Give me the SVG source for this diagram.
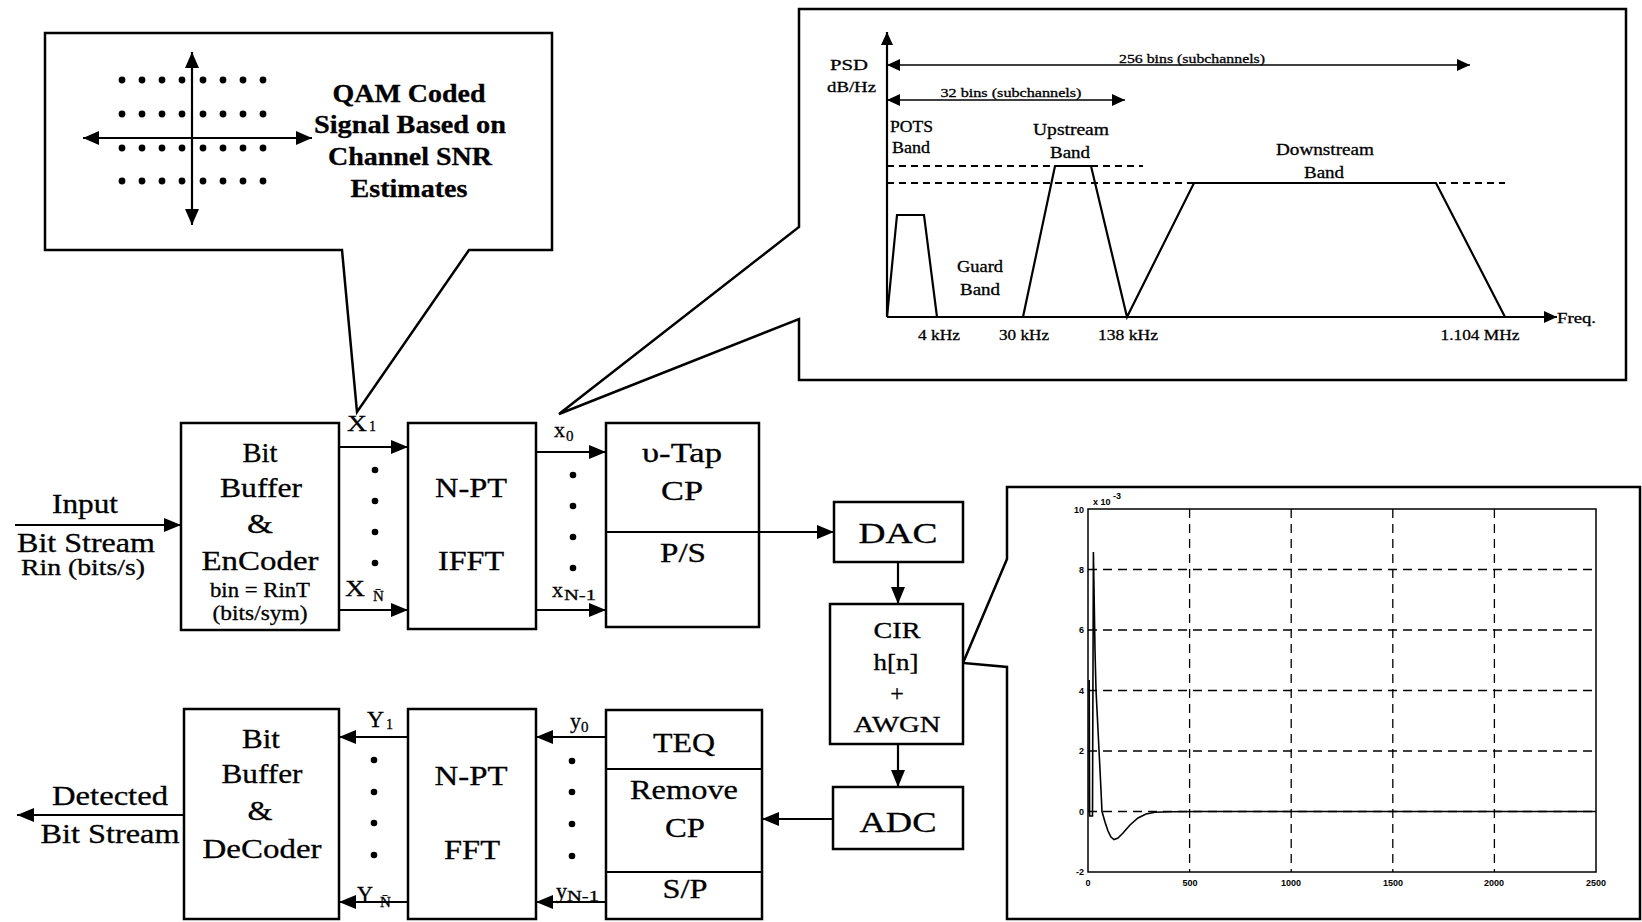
<svg xmlns="http://www.w3.org/2000/svg" width="1642" height="922" viewBox="0 0 1642 922">
<style>
.t{font-family:"Liberation Serif","Times New Roman",serif;fill:#000;stroke:#000;stroke-width:0.3}
.b{font-weight:bold}
.s{font-family:"Liberation Sans",Arial,sans-serif;font-weight:bold;fill:#000;font-size:9px}
.box{fill:#fff;stroke:#000;stroke-width:2.5}
.ln{stroke:#000;stroke-width:2.2;fill:none}
.thin{stroke:#000;stroke-width:1.6;fill:none}
.dash{stroke:#000;stroke-width:2;fill:none;stroke-dasharray:7 5}
.grid{stroke:#000;stroke-width:1.3;fill:none;stroke-dasharray:9 6}
.dot{fill:#000}
</style>
<defs>
<marker id="ah" markerUnits="userSpaceOnUse" markerWidth="17" markerHeight="14" refX="17" refY="7" orient="auto"><path d="M0,0 L17,7 L0,14 Z" fill="#000"/></marker>
<marker id="ahq" markerUnits="userSpaceOnUse" markerWidth="16" markerHeight="14" refX="16" refY="7" orient="auto-start-reverse"><path d="M0,0 L16,7 L0,14 Z" fill="#000"/></marker>
<marker id="ahs" markerUnits="userSpaceOnUse" markerWidth="13" markerHeight="12" refX="13" refY="6" orient="auto-start-reverse"><path d="M0,0 L13,6 L0,12 Z" fill="#000"/></marker>
</defs>
<rect x="0" y="0" width="1642" height="922" fill="#fff"/>

<!-- QAM callout -->
<g id="qam-callout">
<path class="box" d="M45,33 H552 V250 H469 L357,412 L342,250 H45 Z"/>
<line class="ln" x1="83" y1="138" x2="312" y2="138" marker-start="url(#ahq)" marker-end="url(#ahq)"/>
<line class="ln" x1="192" y1="52" x2="192" y2="225" marker-start="url(#ahq)" marker-end="url(#ahq)"/>
<g class="dot">
<circle cx="122" cy="80" r="3.4"/><circle cx="142" cy="80" r="3.4"/><circle cx="162" cy="80" r="3.4"/><circle cx="182" cy="80" r="3.4"/><circle cx="203" cy="80" r="3.4"/><circle cx="223" cy="80" r="3.4"/><circle cx="243" cy="80" r="3.4"/><circle cx="263" cy="80" r="3.4"/>
<circle cx="122" cy="114" r="3.4"/><circle cx="142" cy="114" r="3.4"/><circle cx="162" cy="114" r="3.4"/><circle cx="182" cy="114" r="3.4"/><circle cx="203" cy="114" r="3.4"/><circle cx="223" cy="114" r="3.4"/><circle cx="243" cy="114" r="3.4"/><circle cx="263" cy="114" r="3.4"/>
<circle cx="122" cy="148" r="3.4"/><circle cx="142" cy="148" r="3.4"/><circle cx="162" cy="148" r="3.4"/><circle cx="182" cy="148" r="3.4"/><circle cx="203" cy="148" r="3.4"/><circle cx="223" cy="148" r="3.4"/><circle cx="243" cy="148" r="3.4"/><circle cx="263" cy="148" r="3.4"/>
<circle cx="122" cy="181" r="3.4"/><circle cx="142" cy="181" r="3.4"/><circle cx="162" cy="181" r="3.4"/><circle cx="182" cy="181" r="3.4"/><circle cx="203" cy="181" r="3.4"/><circle cx="223" cy="181" r="3.4"/><circle cx="243" cy="181" r="3.4"/><circle cx="263" cy="181" r="3.4"/>
</g>
<g class="t b" font-size="26" text-anchor="middle">
<text x="409" y="102" textLength="153" lengthAdjust="spacingAndGlyphs">QAM Coded</text>
<text x="410" y="133" textLength="192" lengthAdjust="spacingAndGlyphs">Signal Based on</text>
<text x="410" y="165" textLength="164" lengthAdjust="spacingAndGlyphs">Channel SNR</text>
<text x="409" y="197" textLength="117" lengthAdjust="spacingAndGlyphs">Estimates</text>
</g>
</g>

<!-- PSD callout -->
<g id="psd-callout">
<path class="box" d="M799,9 H1626 V380 H799 V319 L559,414 L799,227 Z"/>
<line class="ln" x1="887" y1="317" x2="887" y2="32" marker-end="url(#ahs)"/>
<line class="ln" x1="887" y1="317" x2="1557" y2="317" marker-end="url(#ahs)"/>
<line class="thin" x1="887" y1="65" x2="1470" y2="65" marker-start="url(#ahs)" marker-end="url(#ahs)"/>
<line class="thin" x1="887" y1="100" x2="1125" y2="100" marker-start="url(#ahs)" marker-end="url(#ahs)"/>
<line class="dash" x1="887" y1="166" x2="1143" y2="166"/>
<line class="dash" x1="887" y1="183" x2="1505" y2="183"/>
<polyline class="ln" points="887,317 897,215 924,215 937,317"/>
<polyline class="ln" points="1023,317 1055,166 1091,166 1127,317 1194,183 1436,183 1505,317"/>
<g class="t" font-size="15">
<text x="830" y="70" textLength="38" lengthAdjust="spacingAndGlyphs">PSD</text>
<text x="827" y="92" textLength="49" lengthAdjust="spacingAndGlyphs">dB/Hz</text>
<text x="890" y="132" font-size="16" textLength="43" lengthAdjust="spacingAndGlyphs">POTS</text>
<text x="892" y="153" font-size="16" textLength="38" lengthAdjust="spacingAndGlyphs">Band</text>
</g>
<g class="t" font-size="16" text-anchor="middle">
<text x="1192" y="63" font-size="13" textLength="146" lengthAdjust="spacingAndGlyphs">256 bins (subchannels)</text>
<text x="1011" y="97" font-size="13" textLength="141" lengthAdjust="spacingAndGlyphs">32 bins (subchannels)</text>
<text x="1071" y="135" textLength="76" lengthAdjust="spacingAndGlyphs">Upstream</text>
<text x="1070" y="158" textLength="40" lengthAdjust="spacingAndGlyphs">Band</text>
<text x="1325" y="155" textLength="98" lengthAdjust="spacingAndGlyphs">Downstream</text>
<text x="1324" y="178" textLength="40" lengthAdjust="spacingAndGlyphs">Band</text>
<text x="980" y="272" textLength="46" lengthAdjust="spacingAndGlyphs">Guard</text>
<text x="980" y="295" textLength="40" lengthAdjust="spacingAndGlyphs">Band</text>
<text x="939" y="340" font-size="15" textLength="42" lengthAdjust="spacingAndGlyphs">4 kHz</text>
<text x="1024" y="340" font-size="15" textLength="50" lengthAdjust="spacingAndGlyphs">30 kHz</text>
<text x="1128" y="340" font-size="15" textLength="60" lengthAdjust="spacingAndGlyphs">138 kHz</text>
<text x="1480" y="340" font-size="15" textLength="79" lengthAdjust="spacingAndGlyphs">1.104 MHz</text>
</g>
<text class="t" x="1557" y="323" font-size="15" textLength="39" lengthAdjust="spacingAndGlyphs">Freq.</text>
</g>

<!-- Impulse response callout -->
<g id="cir-plot-callout">
<path class="box" d="M1007,487 H1640 V919 H1007 V667 L963,663 L1007,559 Z"/>
<rect x="1088" y="509" width="508" height="363" fill="none" stroke="#000" stroke-width="1.5"/>
<g class="grid">
<line x1="1189.6" y1="509" x2="1189.6" y2="872"/><line x1="1291.2" y1="509" x2="1291.2" y2="872"/><line x1="1392.8" y1="509" x2="1392.8" y2="872"/><line x1="1494.4" y1="509" x2="1494.4" y2="872"/>
<line x1="1088" y1="569.5" x2="1596" y2="569.5"/><line x1="1088" y1="630" x2="1596" y2="630"/><line x1="1088" y1="690.5" x2="1596" y2="690.5"/><line x1="1088" y1="751" x2="1596" y2="751"/><line x1="1088" y1="811.5" x2="1596" y2="811.5"/>
</g>
<path fill="none" stroke="#000" stroke-width="1.6" d="M1088,811.5 L1089.2,811.5 L1089.2,680 L1089.6,816 L1092.5,816 L1093.4,552 L1094.2,600 L1095,650 L1096,690 L1097.5,720 L1099,750 L1100.5,780 L1102,811.5 L1105,822 L1108,831 L1111,837 L1114,839.5 L1118,838 L1123,833 L1130,825 L1138,818 L1146,814 L1155,812.3 L1170,811.7 L1200,811.5 L1596,811.5"/>
<g class="s" text-anchor="end">
<text x="1084" y="513">10</text>
<text x="1084" y="573">8</text>
<text x="1084" y="633">6</text>
<text x="1084" y="694">4</text>
<text x="1084" y="754">2</text>
<text x="1084" y="815">0</text>
<text x="1084" y="875">-2</text>
</g>
<text class="s" x="1093" y="505">x 10</text>
<text class="s" x="1113" y="499" font-size="6">-3</text>
<g class="s" text-anchor="middle">
<text x="1088" y="886">0</text>
<text x="1190" y="886">500</text>
<text x="1291" y="886">1000</text>
<text x="1393" y="886">1500</text>
<text x="1494" y="886">2000</text>
<text x="1596" y="886">2500</text>
</g>
</g>

<!-- Transmitter chain -->
<g id="encoder">
<rect class="box" x="181" y="423" width="158" height="207"/>
<g class="t" font-size="27" text-anchor="middle">
<text x="260" y="462" textLength="35" lengthAdjust="spacingAndGlyphs">Bit</text>
<text x="261" y="497" textLength="82" lengthAdjust="spacingAndGlyphs">Buffer</text>
<text x="260" y="533" textLength="26" lengthAdjust="spacingAndGlyphs">&amp;</text>
<text x="260" y="570" textLength="117" lengthAdjust="spacingAndGlyphs">EnCoder</text>
<text x="260" y="597" font-size="20" textLength="100" lengthAdjust="spacingAndGlyphs">bin = RinT</text>
<text x="260" y="620" font-size="21" textLength="95" lengthAdjust="spacingAndGlyphs">(bits/sym)</text>
</g>
</g>
<g id="ifft">
<rect class="box" x="408" y="423" width="128" height="206"/>
<g class="t" font-size="27" text-anchor="middle">
<text x="471" y="497" textLength="72" lengthAdjust="spacingAndGlyphs">N-PT</text>
<text x="471" y="570" textLength="66" lengthAdjust="spacingAndGlyphs">IFFT</text>
</g>
</g>
<g id="cp-ps">
<rect class="box" x="606" y="423" width="153" height="204"/>
<line class="ln" x1="606" y1="532" x2="759" y2="532"/>
<g class="t" font-size="27" text-anchor="middle">
<text x="682" y="462" textLength="80" lengthAdjust="spacingAndGlyphs">υ-Tap</text>
<text x="682" y="500" textLength="42" lengthAdjust="spacingAndGlyphs">CP</text>
<text x="683" y="562" textLength="46" lengthAdjust="spacingAndGlyphs">P/S</text>
</g>
</g>
<g id="dac">
<rect class="box" x="834" y="502" width="129" height="60"/>
<text class="t" x="898" y="543" font-size="30" text-anchor="middle" textLength="79" lengthAdjust="spacingAndGlyphs">DAC</text>
</g>
<g id="cir">
<rect class="box" x="830" y="604" width="133" height="140"/>
<g class="t" font-size="24" text-anchor="middle">
<text x="897" y="638" textLength="47" lengthAdjust="spacingAndGlyphs">CIR</text>
<text x="896" y="670" textLength="45" lengthAdjust="spacingAndGlyphs">h[n]</text>
<text x="897" y="701">+</text>
<text x="897" y="732" textLength="87" lengthAdjust="spacingAndGlyphs">AWGN</text>
</g>
</g>
<g id="adc">
<rect class="box" x="833" y="787" width="130" height="62"/>
<text class="t" x="898" y="832" font-size="30" text-anchor="middle" textLength="77" lengthAdjust="spacingAndGlyphs">ADC</text>
</g>

<!-- Receiver chain -->
<g id="teq-rmcp-sp">
<rect class="box" x="606" y="710" width="156" height="209"/>
<line class="ln" x1="606" y1="769" x2="762" y2="769"/>
<line class="ln" x1="606" y1="872" x2="762" y2="872"/>
<g class="t" font-size="28" text-anchor="middle">
<text x="684" y="752" textLength="62" lengthAdjust="spacingAndGlyphs">TEQ</text>
<text x="684" y="799" textLength="108" lengthAdjust="spacingAndGlyphs">Remove</text>
<text x="685" y="837" textLength="40" lengthAdjust="spacingAndGlyphs">CP</text>
<text x="685" y="898" textLength="45" lengthAdjust="spacingAndGlyphs">S/P</text>
</g>
</g>
<g id="fft">
<rect class="box" x="408" y="709" width="128" height="210"/>
<g class="t" font-size="27" text-anchor="middle">
<text x="471" y="785" textLength="73" lengthAdjust="spacingAndGlyphs">N-PT</text>
<text x="472" y="859" textLength="56" lengthAdjust="spacingAndGlyphs">FFT</text>
</g>
</g>
<g id="decoder">
<rect class="box" x="184" y="709" width="155" height="210"/>
<g class="t" font-size="27" text-anchor="middle">
<text x="261" y="748" textLength="38" lengthAdjust="spacingAndGlyphs">Bit</text>
<text x="262" y="783" textLength="81" lengthAdjust="spacingAndGlyphs">Buffer</text>
<text x="260" y="820" textLength="25" lengthAdjust="spacingAndGlyphs">&amp;</text>
<text x="262" y="858" textLength="119" lengthAdjust="spacingAndGlyphs">DeCoder</text>
</g>
</g>

<!-- Connectors -->
<g id="connectors">
<line class="ln" x1="15" y1="525" x2="181" y2="525" marker-end="url(#ah)"/>
<line class="ln" x1="339" y1="447" x2="408" y2="447" marker-end="url(#ah)"/>
<line class="ln" x1="339" y1="610" x2="408" y2="610" marker-end="url(#ah)"/>
<line class="ln" x1="536" y1="452" x2="606" y2="452" marker-end="url(#ah)"/>
<line class="ln" x1="536" y1="610" x2="606" y2="610" marker-end="url(#ah)"/>
<line class="ln" x1="759" y1="532" x2="834" y2="532" marker-end="url(#ah)"/>
<line class="ln" x1="898" y1="562" x2="898" y2="604" marker-end="url(#ah)"/>
<line class="ln" x1="898" y1="744" x2="898" y2="787" marker-end="url(#ah)"/>
<line class="ln" x1="833" y1="819" x2="762" y2="819" marker-end="url(#ah)"/>
<line class="ln" x1="606" y1="737" x2="536" y2="737" marker-end="url(#ah)"/>
<line class="ln" x1="606" y1="902" x2="536" y2="902" marker-end="url(#ah)"/>
<line class="ln" x1="408" y1="737" x2="339" y2="737" marker-end="url(#ah)"/>
<line class="ln" x1="408" y1="902" x2="339" y2="902" marker-end="url(#ah)"/>
<line class="ln" x1="184" y1="815" x2="17" y2="815" marker-end="url(#ah)"/>
<g class="dot">
<circle cx="375" cy="470" r="3.3"/><circle cx="375" cy="501" r="3.3"/><circle cx="375" cy="532" r="3.3"/><circle cx="375" cy="563" r="3.3"/>
<circle cx="573" cy="475" r="3.3"/><circle cx="573" cy="506" r="3.3"/><circle cx="573" cy="537" r="3.3"/><circle cx="573" cy="568" r="3.3"/>
<circle cx="374" cy="760" r="3.3"/><circle cx="374" cy="792" r="3.3"/><circle cx="374" cy="823" r="3.3"/><circle cx="374" cy="855" r="3.3"/>
<circle cx="572" cy="761" r="3.3"/><circle cx="572" cy="792" r="3.3"/><circle cx="572" cy="824" r="3.3"/><circle cx="572" cy="856" r="3.3"/>
</g>
</g>

<!-- Labels -->
<g id="labels" class="t">
<text x="85" y="513" font-size="27" text-anchor="middle" textLength="66" lengthAdjust="spacingAndGlyphs">Input</text>
<text x="86" y="552" font-size="27" text-anchor="middle" textLength="138" lengthAdjust="spacingAndGlyphs">Bit Stream</text>
<text x="83" y="575" font-size="23" text-anchor="middle" textLength="124" lengthAdjust="spacingAndGlyphs">Rin (bits/s)</text>
<text x="110" y="805" font-size="27" text-anchor="middle" textLength="116" lengthAdjust="spacingAndGlyphs">Detected</text>
<text x="110" y="843" font-size="27" text-anchor="middle" textLength="139" lengthAdjust="spacingAndGlyphs">Bit Stream</text>
<text x="347" y="431" font-size="24" textLength="20" lengthAdjust="spacingAndGlyphs">X</text>
<text x="369" y="431" font-size="14">1</text>
<text x="345" y="596" font-size="24" textLength="20" lengthAdjust="spacingAndGlyphs">X</text>
<text x="373" y="601" font-size="15">N̄</text>
<text x="554" y="437" font-size="22">x</text>
<text x="566" y="441" font-size="15">0</text>
<text x="552" y="597" font-size="22">x</text>
<text x="564" y="600" font-size="15" textLength="32" lengthAdjust="spacingAndGlyphs">N-1</text>
<text x="570" y="728" font-size="22">y</text>
<text x="581" y="732" font-size="15">0</text>
<text x="556" y="898" font-size="22">y</text>
<text x="567" y="901" font-size="15" textLength="32" lengthAdjust="spacingAndGlyphs">N-1</text>
<text x="367" y="727" font-size="24" textLength="17" lengthAdjust="spacingAndGlyphs">Y</text>
<text x="386" y="729" font-size="14">1</text>
<text x="357" y="902" font-size="24" textLength="16" lengthAdjust="spacingAndGlyphs">Y</text>
<text x="380" y="907" font-size="15">N̄</text>
</g>
</svg>
